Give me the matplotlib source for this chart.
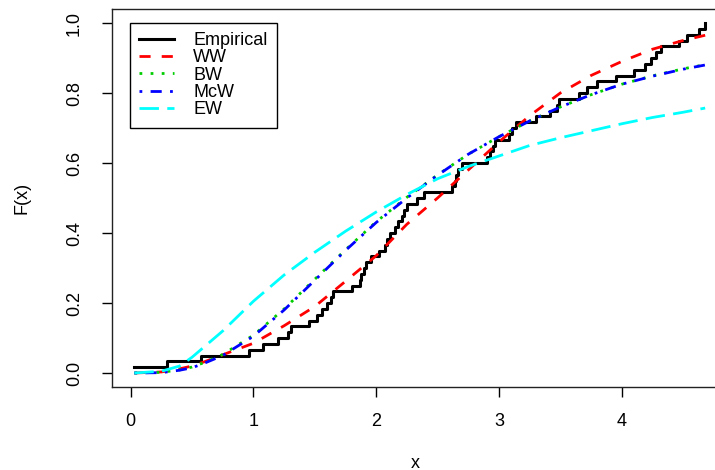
import numpy as np
import matplotlib
matplotlib.use("Agg")
import matplotlib.pyplot as plt

plt.rcParams['font.family'] = ['Liberation Sans', 'DejaVu Sans']

sample = [0.03, 0.30, 0.57, 0.96, 1.08, 1.20, 1.28, 1.31, 1.45, 1.52,
          1.56, 1.60, 1.63, 1.65, 1.80, 1.87, 1.88, 1.90, 1.92, 1.96,
          2.02, 2.07, 2.09, 2.11, 2.15, 2.18, 2.21, 2.23, 2.25, 2.33,
          2.39, 2.62, 2.64, 2.65, 2.67, 2.70, 2.90, 2.93, 2.95, 2.97,
          3.08, 3.11, 3.14, 3.30, 3.42, 3.47, 3.49, 3.65, 3.72, 3.80,
          3.95, 4.10, 4.19, 4.24, 4.28, 4.32, 4.47, 4.53, 4.63, 4.68]

x_grid = [0.03, 0.25, 0.40, 0.50, 0.60, 0.75, 1.00, 1.25, 1.50, 1.75, 2.00,
          2.25, 2.50, 2.75, 3.00, 3.25, 3.50, 3.75, 4.00, 4.25, 4.50, 4.68]
ww  = [0.000, 0.003, 0.012, 0.020, 0.032, 0.052, 0.085, 0.135, 0.190, 0.262, 0.335,
       0.425, 0.500, 0.580, 0.660, 0.735, 0.800, 0.850, 0.890, 0.925, 0.950, 0.965]
bw  = [0.000, 0.002, 0.009, 0.017, 0.030, 0.053, 0.108, 0.183, 0.268, 0.352, 0.432,
       0.502, 0.566, 0.625, 0.675, 0.720, 0.760, 0.795, 0.825, 0.849, 0.869, 0.881]
mcw = [0.000, 0.001, 0.008, 0.015, 0.028, 0.050, 0.105, 0.180, 0.265, 0.350, 0.430,
       0.500, 0.565, 0.625, 0.675, 0.720, 0.760, 0.795, 0.825, 0.848, 0.868, 0.880]
ew  = [0.000, 0.005, 0.020, 0.045, 0.075, 0.120, 0.205, 0.280, 0.345, 0.405, 0.460,
       0.510, 0.555, 0.590, 0.620, 0.650, 0.672, 0.692, 0.712, 0.730, 0.745, 0.757]

legend_labels = ["Empirical", "WW", "BW", "McW", "EW"]
x_ticks = [0, 1, 2, 3, 4]
y_ticks = [0.0, 0.2, 0.4, 0.6, 0.8, 1.0]

W, H = 715, 470
fig = plt.figure(figsize=(W / 100, H / 100), dpi=100)
ax = fig.add_axes([111.5 / W, 83 / H, (728 - 111.5) / W, (387 - 9) / H])

xs = np.sort(np.array(sample))
Fn = np.arange(1, len(xs) + 1) / len(xs)

lw = 2.0
ax.step(xs, Fn, where='post', color='black', lw=2.2, label=legend_labels[0])
ax.plot(x_grid, ww, color='red', lw=lw, dashes=(4, 4), label=legend_labels[1])
ax.plot(x_grid, bw, color='#00CD00', lw=lw, dashes=(1, 3), label=legend_labels[2])
ax.plot(x_grid, mcw, color='blue', lw=lw, dashes=(1, 3, 4, 3), label=legend_labels[3])
ax.plot(x_grid, ew, color='cyan', lw=lw, dashes=(7, 3), label=legend_labels[4])

ax.set_xlim(-0.156, 4.866)
ax.set_ylim(-0.04, 1.04)
ax.set_xticks(x_ticks)
ax.set_xticklabels([str(t) for t in x_ticks])
ax.set_yticks(y_ticks)
ax.set_yticklabels([f"{t:.1f}" for t in y_ticks])
for lab in ax.get_yticklabels():
    lab.set_rotation(90)
    lab.set_va('center')

ax.tick_params(axis='both', labelsize=13, length=7.5, width=1, color='black')
ax.tick_params(axis='x', pad=11)
ax.tick_params(axis='y', pad=13)
for s in ax.spines.values():
    s.set_color('#222222')
    s.set_linewidth(1)

fig.text(415 / W, 1 - 463 / H, "x", ha='center', va='center', fontsize=13)
fig.text(22 / W, 1 - 198 / H, "F(x)", ha='center', va='center', fontsize=13, rotation=90)

leg = ax.legend(loc='upper left', bbox_to_anchor=(130 / W, 1 - 23 / H),
                bbox_transform=fig.transFigure, borderaxespad=0,
                fontsize=13, handlelength=1.95, handletextpad=1.05,
                labelspacing=0.02, borderpad=0.5, fancybox=False,
                framealpha=1, edgecolor='black')
leg.get_frame().set_linewidth(1)

fig.savefig("out.png", dpi=100)
